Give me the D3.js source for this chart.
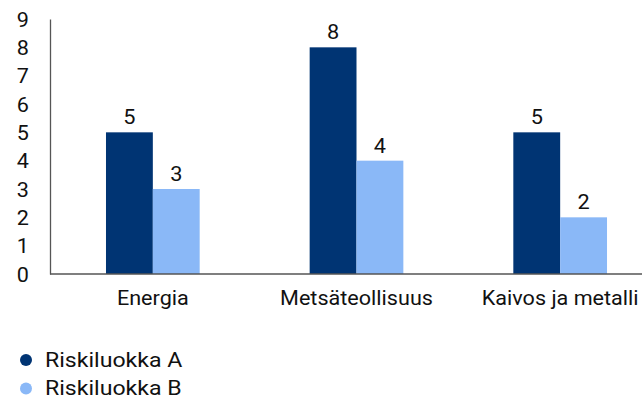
<!DOCTYPE html>
<html><head><meta charset="utf-8">
<script src="https://cdn.jsdelivr.net/npm/d3@7"></script>
<style>body{margin:0;background:#fff;}svg{display:block;font-family:Roboto,"Noto Sans",sans-serif;}</style>
</head><body>
<svg id="c" width="642" height="400"></svg>
<script>
const categories = ["Energia", "Metsäteollisuus", "Kaivos ja metalli"];
const seriesNames = ["Riskiluokka A", "Riskiluokka B"];
const seriesA = [5, 8, 5];
const seriesB = [3, 4, 2];
const yTicks = [0,1,2,3,4,5,6,7,8,9];
const colors = ["#003473", "#8ab8f7"];

const svg = d3.select("#c");
const x0 = d3.scaleBand().domain(categories).range([51, 662]).paddingInner(0.54).paddingOuter(0.27);
const x1 = d3.scaleBand().domain(seriesNames).range([0, x0.bandwidth()]);
const y = d3.scaleLinear().domain([0, 9]).range([274, 19]);

const data = categories.map((c,i)=>({cat:c, vals:[{s:seriesNames[0], v:seriesA[i]},{s:seriesNames[1], v:seriesB[i]}]}));

const g = svg.selectAll("g.grp").data(data).join("g").attr("class","grp")
  .attr("transform", d=>`translate(${x0(d.cat)},0)`);
g.selectAll("rect").data(d=>d.vals).join("rect")
  .attr("x", d=>x1(d.s)).attr("width", x1.bandwidth())
  .attr("y", d=>y(d.v)).attr("height", d=>y(0)-y(d.v))
  .attr("fill", (d,i)=>colors[i]);
g.selectAll("text.val").data(d=>d.vals).join("text").attr("class","val")
  .attr("transform", d=>`translate(${x1(d.s)+x1.bandwidth()/2},${y(d.v)-8}) scale(1.06,1)`)
  .attr("text-anchor","middle").attr("font-size",20.5).attr("fill","#111")
  .text(d=>d.v);

// y axis
const ya = svg.append("g").attr("transform","translate(50,0)")
  .call(d3.axisLeft(y).tickValues(yTicks).tickSize(0).tickFormat(d3.format("d")));
ya.select(".domain").attr("stroke","#555").attr("stroke-width",1.3);
ya.selectAll("text").attr("x",0).attr("dy","0.36em")
  .attr("transform","translate(-21,0) scale(1.08,1)")
  .attr("font-size",20).attr("fill","#111").attr("font-family","Roboto");

// x axis
const xa = svg.append("g").attr("transform",`translate(0,${y(0)})`)
  .call(d3.axisBottom(x0).tickSize(0).tickPadding(17));
xa.select(".domain").attr("d","M50,0H642").attr("stroke","#555").attr("stroke-width",1.3);
xa.selectAll("text").attr("transform","scale(1.08,1)")
  .attr("font-size",20).attr("fill","#111").attr("font-family","Roboto");

// legend
const lg = svg.selectAll("g.leg").data(seriesNames).join("g").attr("class","leg")
  .attr("transform",(d,i)=>`translate(26,${360+i*28.4})`);
lg.append("circle").attr("r",6).attr("fill",(d,i)=>colors[i]);
lg.append("text").attr("transform","translate(19,6.5) scale(1.1,1)")
  .attr("font-size",21).attr("fill","#111").text(d=>d);
</script>
</body></html>
